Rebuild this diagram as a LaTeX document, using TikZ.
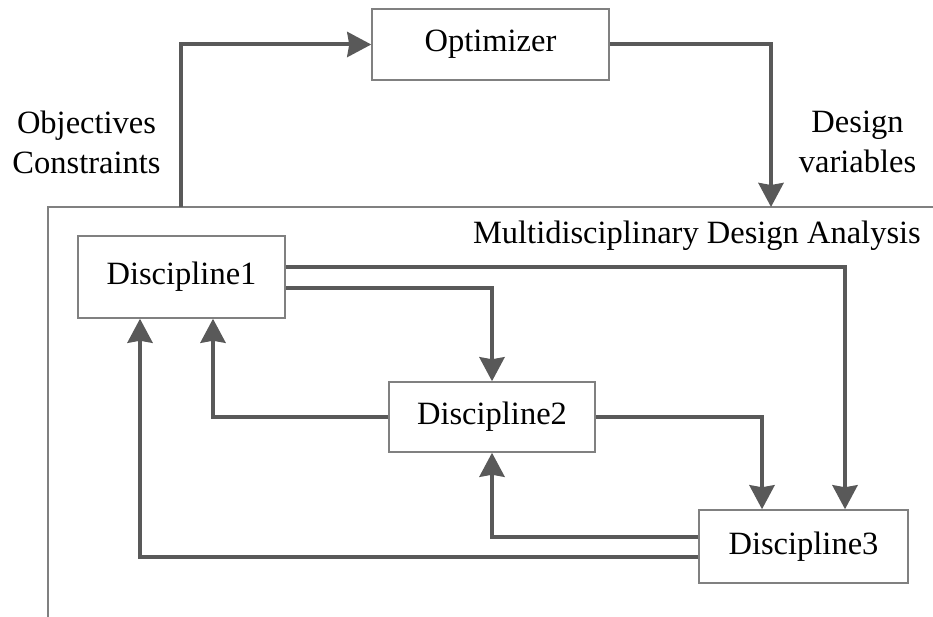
\documentclass[tikz,border=0pt]{standalone}
\usepackage{fontspec}
\setmainfont{Liberation Serif}
\usetikzlibrary{arrows.meta}
\definecolor{arr}{HTML}{595959}
\definecolor{bord}{HTML}{808080}
\begin{document}
\begin{tikzpicture}[x=1pt,y=-1pt,
  every node/.style={font=\fontsize{32.5}{40}\selectfont, inner sep=0pt},
  box/.style={draw=bord, line width=1.5pt, fill=white},
  flow/.style={draw=arr, line width=4pt, -{Stealth[inset=2pt,length=24pt,width=25pt]}},
  frame/.style={draw=bord, line width=1.5pt},
  lab/.style={align=center}]
\useasboundingbox (0,0) rectangle (933,617);
% frame
\draw[frame] (48,617) -- (48,207) -- (933,207);
\coordinate (fout) at (181,207);
\coordinate (fin) at (771,207);
% nodes
\node[box, minimum width=237pt, minimum height=71pt] (opt) at (490.5,44.5) {Optimizer};
\node[box, minimum width=207pt, minimum height=82pt] (d1) at (181.5,277) {Discipline1};
\node[box, minimum width=206pt, minimum height=70pt] (d2) at (492,417) {Discipline2};
\node[box, minimum width=209pt, minimum height=73pt] (d3) at (803.5,546.5) {Discipline3};
\node[lab] (oc) at (86.5,142) {Objectives\\Constraints};
\node[lab] (dv) at (857.5,142) {Design\\variables};
\node[anchor=east] (mda) at (921,236) {Multidisciplinary Design Analysis};
% connectors
\draw[flow] (fout) |- (opt.west);
\draw[flow] (opt.east) -| (fin);
\draw[flow] ([yshift=10pt]d1.east) -| ([xshift=41.5pt]d3.north);
\draw[flow] ([yshift=-11pt]d1.east) -| (d2.north);
\draw[flow] (d2.east) -| ([xshift=-41.5pt]d3.north);
\draw[flow] (d2.west) -| ([xshift=31.5pt]d1.south);
\draw[flow] ([yshift=9.5pt]d3.west) -| (d2.south);
\draw[flow] ([yshift=-10.5pt]d3.west) -| ([xshift=-41.5pt]d1.south);
\end{tikzpicture}
\end{document}
